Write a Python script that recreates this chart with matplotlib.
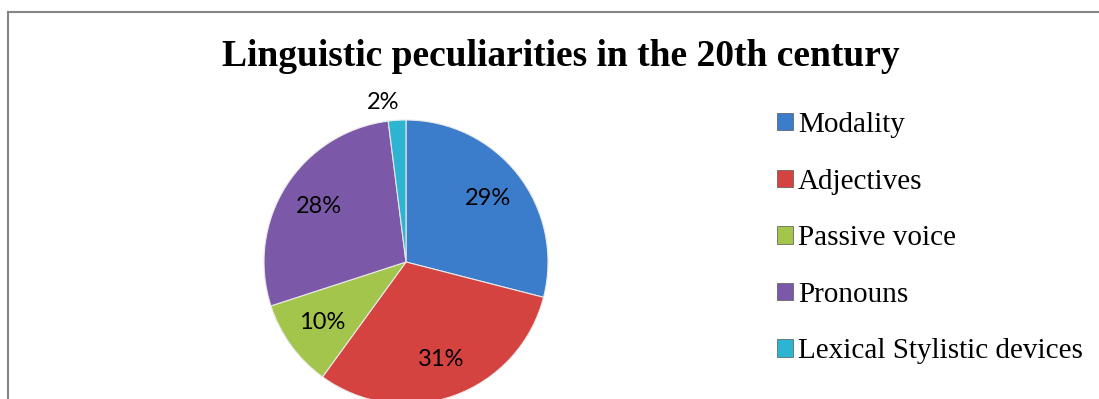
import numpy as np
import matplotlib
matplotlib.use("Agg")
import matplotlib.pyplot as plt
from matplotlib.patches import Patch
from matplotlib.lines import Line2D

# data
categories = ["Modality", "Adjectives", "Passive voice", "Pronouns", "Lexical Stylistic devices"]
shares = [29, 31, 10, 28, 2]
colors = ["#3c7dcb", "#d4433f", "#a4c54c", "#7c59a8", "#2db4d2"]

W, H = 1099, 399
fig = plt.figure(figsize=(W / 100, H / 100), dpi=100)

# outer chart frame (only top and left edge visible)
px = lambda x: x / W
py = lambda y: 1 - y / H
fig.add_artist(Line2D([px(8), px(8)], [py(12), py(H + 5)], color="#868686", lw=1.5))
fig.add_artist(Line2D([px(8), px(W + 5)], [py(12), py(12)], color="#868686", lw=1.5))

# pie: centre (406, 262) px, radius 142 px
cx, cy, r = 406, 262, 142
ax = fig.add_axes([px(cx - r), py(cy + r), 2 * r / W, 2 * r / H])
wedges, texts, autotexts = ax.pie(
    shares, colors=colors, startangle=90, counterclock=False,
    autopct="%d%%", pctdistance=0.73,
    wedgeprops=dict(edgecolor="#e8e8e8", linewidth=0.8),
    textprops=dict(fontfamily="Lato", fontsize=17, color="black"),
)
for w in wedges:
    w.set_clip_on(False)
ax.set_xlim(-1, 1)
ax.set_ylim(-1, 1)
ax.set_aspect("equal")
ax.axis("off")

# small slice label sits outside the pie, a bit to the left
autotexts[-1].set_position((-0.16, 1.12))

fig.text(0.51, py(57), "Linguistic peculiarities in the 20th century",
         ha="center", va="center", fontfamily="Liberation Serif",
         fontweight="bold", fontsize=27)

handles = [Patch(facecolor=c, edgecolor="#555555", linewidth=0.5) for c in colors]
fig.legend(handles, categories, loc="upper left", bbox_to_anchor=(px(777), py(112)),
           frameon=False, prop=dict(family="Liberation Serif", size=21),
           handlelength=0.55, handleheight=0.55, handletextpad=0.17,
           labelspacing=1.05, borderpad=0, borderaxespad=0)

fig.savefig("out.png", dpi=100)
